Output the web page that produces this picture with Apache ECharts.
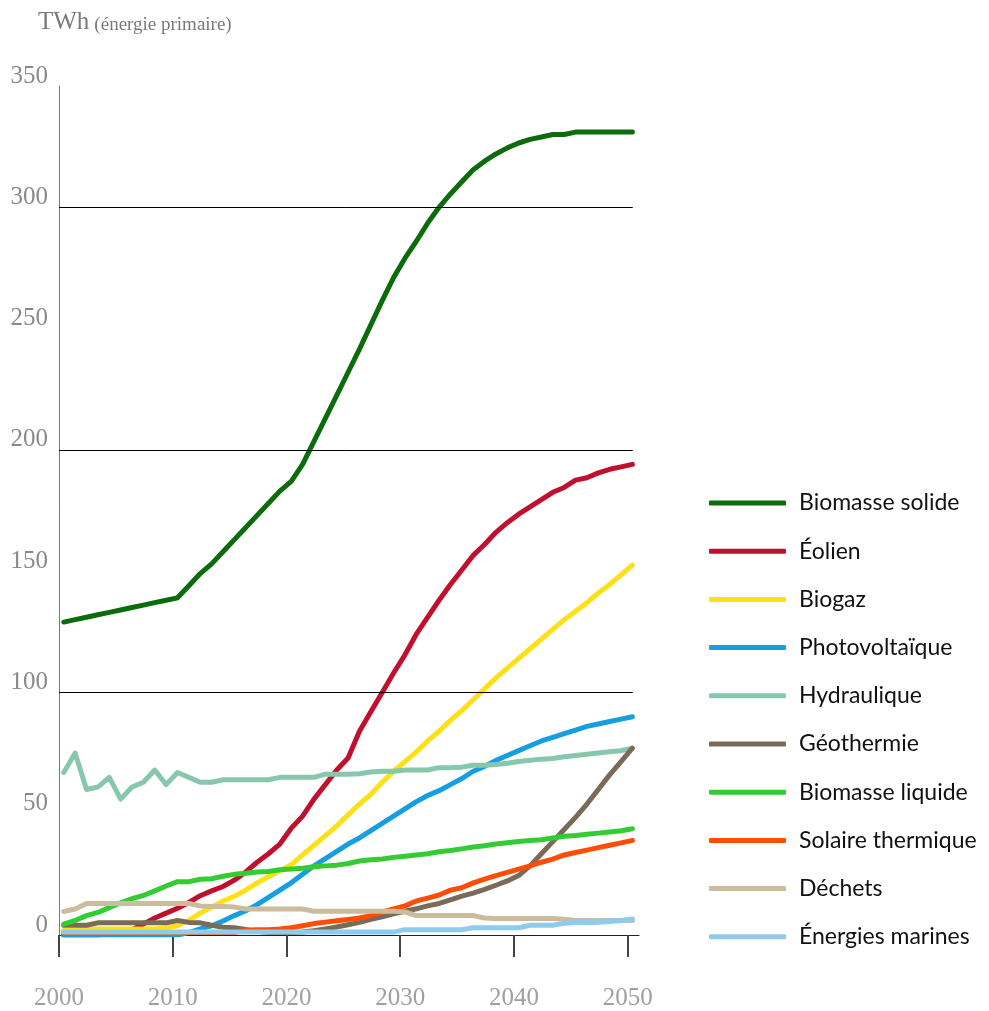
<!DOCTYPE html>
<html><head><meta charset="utf-8">
<script src="https://cdn.jsdelivr.net/npm/echarts@6/dist/echarts.min.js"></script>
<style>html,body{margin:0;padding:0;background:#fff}#c{width:989px;height:1011px}</style>
</head><body><div id="c"></div>
<script>
const years = [2000,2001,2002,2003,2004,2005,2006,2007,2008,2009,
  2010,2011,2012,2013,2014,2015,2016,2017,2018,2019,
  2020,2021,2022,2023,2024,2025,2026,2027,2028,2029,
  2030,2031,2032,2033,2034,2035,2036,2037,2038,2039,
  2040,2041,2042,2043,2044,2045,2046,2047,2048,2049,2050];
const xTickLabels = [2000,2010,2020,2030,2040,2050];
const gridValues = [100,200,300];

const seriesNames = ['Biomasse solide','Éolien','Biogaz','Photovoltaïque','Hydraulique',
  'Géothermie','Biomasse liquide','Solaire thermique','Déchets','Énergies marines'];

const biomasseSolide = [129,130,131,132,133,134,135,136,137,138,139,
  144,149,153,158,163,168,173,178,183,187,
  194,203.5,213,222.5,232,241.5,251.5,261.5,271,279,
  286,293.5,300,305.5,310.5,315.5,319,322,324.5,326.5,
  328,329,330,330,331,331,331,331,331,331];
const eolien = [0,0,0,0,0.8,1,2.2,4.5,7,9,11,
  13.4,16.2,18.2,20,22.6,26,30,33.5,37.5,44,
  49,56,62,68,73,84,92,100,108,115.5,
  124,131,138,144.5,150.5,156.5,161,166,170,173.5,
  176.5,179.5,182.5,184.5,187.5,188.5,190.5,192,193,194];
const biogaz = [2,2,2.5,2.5,2.5,2.5,2.5,2.5,2.5,3,3.8,
  6,9,11.5,14,16,18.5,21.5,24,26.5,29,
  33,37,41,45,49.5,54,58,63,67.5,71.5,
  75.5,80,84,88.5,92.5,97,101.5,106,110,114,
  118,122,126,130,133.5,137,141,144.5,148.5,152.5];
const photovoltaique = [0,0,0,0,0,0,0,0,0,0,0,
  1,2.5,3.8,5.8,8,10,12.5,15.5,18.5,21.5,
  25,28.5,31.5,34.5,37.5,40,43,46,49,52,
  55,57.5,59.5,62,64.5,67.5,69.5,72,74,76,
  78,80,81.5,83,84.5,86,87,88,89,90];
const hydraulique = [67,75,60,61,65,56,61,63,68,62,67,
  65,63,63,64,64,64,64,64,65,65,
  65,65,66.3,66.3,66.3,66.5,67.2,67.5,67.5,68,
  68,68,69,69,69.2,70,70,70.3,70.8,71.5,
  72,72.5,72.8,73.5,74,74.5,75,75.5,76,77];
const geothermie = [4,4,4,5,5,5,5,5,5,5,6,
  5.2,5,4,3.2,3,2.3,1.5,1,1,1,
  1.2,1.8,2.5,3.3,4.2,5.2,6.5,7.5,8.7,9.8,
  10.8,12,13,14.5,16,17.3,18.8,20.5,22.3,24.5,
  28.5,33.5,38.5,43.5,48.5,54,60,66,71.5,77];
const biomasseLiquide = [4.5,6,8,9.3,11.3,13.3,15,16.3,18.2,20.2,22,
  22,23,23.2,24.2,25,25.5,26,26.2,26.9,27.2,
  27.5,28.1,28.5,28.8,29.5,30.5,31,31.3,32,32.5,
  33,33.5,34.3,34.8,35.5,36.3,36.8,37.5,38,38.5,
  39,39.3,40,40.7,41,41.5,42,42.5,43,43.8];
const solaireThermique = [1,1,1,1,1,1,1,1,1,1,1,
  1,1,1,1,1,2,2.2,2.2,2.5,3,
  3.8,4.7,5.3,5.9,6.4,7,8,9.5,10.7,12,
  14,15.2,16.5,18.5,19.5,21.5,23,24.5,25.8,27.2,
  28.5,30,31.3,33,34,35,36,37,38,39];
const dechets = [9.7,10.7,13,13,13,13,13,13,13,13,13,
  13,12,11.8,11.8,11.5,10.7,10.7,10.7,10.7,10.7,
  10.7,9.8,9.8,9.8,9.8,9.8,9.8,9.8,9.8,9.5,
  8,8,8,8,8,8,7,6.8,6.8,6.8,
  6.8,6.8,6.8,6.5,6,6,6,6,6,6];
const energiesMarines = [1.2,1.2,1.2,1.2,1.2,1.2,1.2,1.2,1.2,1.2,1.2,
  1.2,1.2,1.2,1.2,1.2,1.2,1.2,1.2,1.2,1.2,
  1.2,1.2,1.2,1.2,1.2,1.2,1.2,1.2,1.2,2.2,
  2.2,2.2,2.2,2.2,2.2,3,3,3,3,3,
  4,4,4,4.8,5.2,5.2,5.3,5.6,6,6.6];

const allValues = [biomasseSolide,eolien,biogaz,photovoltaique,hydraulique,
  geothermie,biomasseLiquide,solaireThermique,dechets,energiesMarines];
const colors = ['#0c6c0c','#c1102d','#fee017','#159fe0','#87c8ac',
  '#7a6b58','#33cc33','#ff4d05','#cabc9c','#8ecbec'];

const X_SHIFT = 0.42; // marks sit slightly to the right of the year ticks
const GRID_END = 2050.45;

const chart = echarts.init(document.getElementById('c'), null, {renderer:'canvas'});
const series = allValues.map((vals, k) => ({
  name: seriesNames[k],
  type: 'line',
  color: colors[k],
  showSymbol: false,
  symbol: 'none',
  z: 3,
  data: vals.map((v, i) => [years[i] + X_SHIFT, v]),
  lineStyle: {width: 5, color: colors[k], cap: 'round', join: 'round'},
  emphasis: {disabled: true}
}));
series.push({
  name: 'grid', type: 'line', data: [], z: 1, silent: true,
  markLine: {
    silent: true, symbol: ['none','none'], label: {show: false},
    lineStyle: {color: '#000', width: 1, type: 'solid'},
    emphasis: {disabled: true},
    data: gridValues.map(v => [{coord: [2000, v]}, {coord: [GRID_END, v]}])
  }
});

chart.setOption({
  animation: false,
  backgroundColor: '#fff',
  title: {
    left: 33, top: 5,
    text: '{a|TWh} {b|(énergie primaire)}',
    textStyle: {
      fontWeight: 'normal',
      rich: {
        a: {fontFamily: 'Liberation Serif', fontSize: 25, fontWeight: 'normal', color: '#7a7a7a', verticalAlign: 'bottom'},
        b: {fontFamily: 'Liberation Serif', fontSize: 19, fontWeight: 'normal', color: '#7a7a7a', verticalAlign: 'bottom'}
      }
    }
  },
  grid: {left: 59, top: 86, width: 580, height: 850, containLabel: false},
  legend: {
    orient: 'vertical', left: 704, top: 483,
    itemWidth: 77, itemHeight: 5, itemGap: 18.2, icon: 'roundRect',
    selectedMode: false,
    textStyle: {fontFamily: 'Lato', fontSize: 23, color: '#111', lineHeight: 30, padding: [0,0,0,8]},
    data: seriesNames
  },
  xAxis: {
    type: 'value', min: 2000, max: 2051, interval: 10,
    axisLine: {show: true, lineStyle: {color: '#222', width: 1}},
    axisTick: {show: true, customValues: xTickLabels, length: 22, lineStyle: {color: '#444', width: 2}},
    axisLabel: {customValues: xTickLabels, formatter: v => String(v),
      fontFamily: 'Liberation Serif', fontSize: 25, color: '#a0a0a0', margin: 51},
    splitLine: {show: false}
  },
  yAxis: {
    type: 'value', min: 0, max: 350, interval: 50,
    axisLine: {show: true, lineStyle: {color: '#777', width: 1}},
    axisTick: {show: false},
    axisLabel: {fontFamily: 'Liberation Serif', fontSize: 25, color: '#8a8a8a', margin: 11,
      verticalAlign: 'bottom', lineHeight: 20},
    splitLine: {show: false}
  },
  series: series
});
</script></body></html>
